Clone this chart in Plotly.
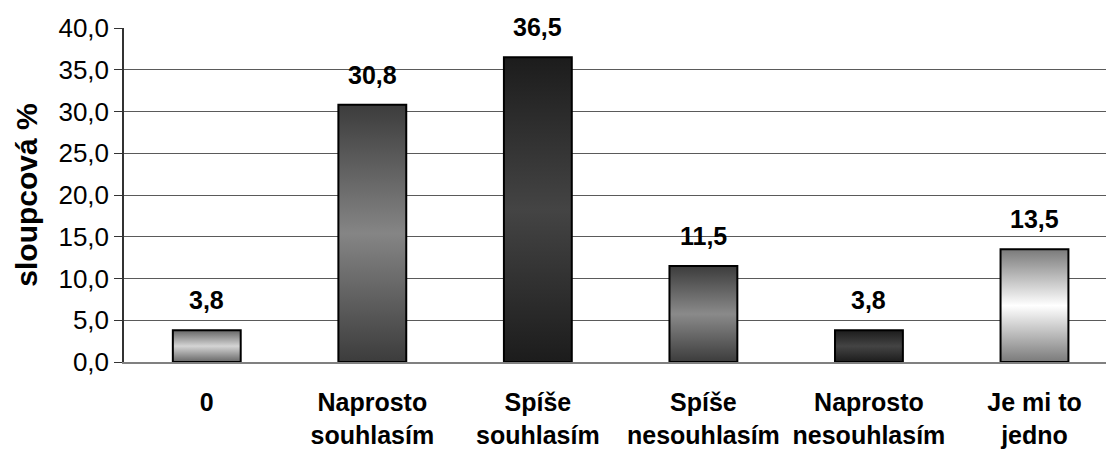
import plotly.graph_objects as go

# Survey answers and their column percentages
categories = ["0", "Naprosto<br>souhlasím", "Spíše<br>souhlasím",
              "Spíše<br>nesouhlasím", "Naprosto<br>nesouhlasím", "Je mi to<br>jedno"]
values = [3.8, 30.8, 36.5, 11.5, 3.8, 13.5]

# Vertical shading of each column: edge colour, centre colour
edge_colors = ["#666666", "#3c3c3c", "#1c1c1c", "#3c3c3c", "#1c1c1c", "#7a7a7a"]
center_colors = ["#d4d4d4", "#858585", "#444444", "#8a8a8a", "#444444", "#ffffff"]

y_ticks = [0, 5, 10, 15, 20, 25, 30, 35, 40]
bar_half = 0.205
font = "Liberation Sans, Arial, sans-serif"

fig = go.Figure()

for i, (v, e, c) in enumerate(zip(values, edge_colors, center_colors)):
    xs = [i - bar_half, i - bar_half, i + bar_half, i + bar_half, i - bar_half]
    ys = [0, v, v, 0, 0]
    fig.add_trace(go.Scatter(
        x=xs, y=ys, mode="lines", fill="toself",
        line=dict(color="#000000", width=2),
        fillgradient=dict(type="vertical",
                          colorscale=[[0, e], [0.5, c], [1, e]]),
        hoverinfo="skip", showlegend=False,
    ))
    fig.add_annotation(
        x=i, y=v, text="<b>" + f"{v:.1f}".replace(".", ",") + "</b>",
        showarrow=False, yanchor="bottom", yshift=14,
        font=dict(family=font, size=25, color="#000000"),
    )

fig.update_layout(
    width=1106, height=449,
    margin=dict(l=124, r=0, t=28, b=87),
    paper_bgcolor="#ffffff", plot_bgcolor="#ffffff",
    separators=", ",
    font=dict(family=font, color="#000000"),
    xaxis=dict(
        range=[-0.5, 5.432],
        tickvals=list(range(len(categories))), ticktext=["<b>" + t + "</b>" for t in categories],
        tickfont=dict(family=font, size=25, color="#000000"),
        ticks="", ticklabelstandoff=17,
        showline=True, linecolor="#808080", linewidth=2,
        showgrid=False, zeroline=False,
    ),
    yaxis=dict(
        range=[0, 40], tickvals=y_ticks, tickformat=".1f",
        tickfont=dict(family=font, size=26, color="#000000"),
        ticks="outside", ticklen=8, tickcolor="#333333", tickwidth=1,
        showline=True, linecolor="#333333", linewidth=1.5,
        showgrid=True, gridcolor="#5a5a5a", gridwidth=1.2,
        zeroline=False,
        title=dict(text="<b>sloupcová %</b>", standoff=12,
                   font=dict(family=font, size=30, color="#000000")),
    ),
)

fig.write_html("out.html")
